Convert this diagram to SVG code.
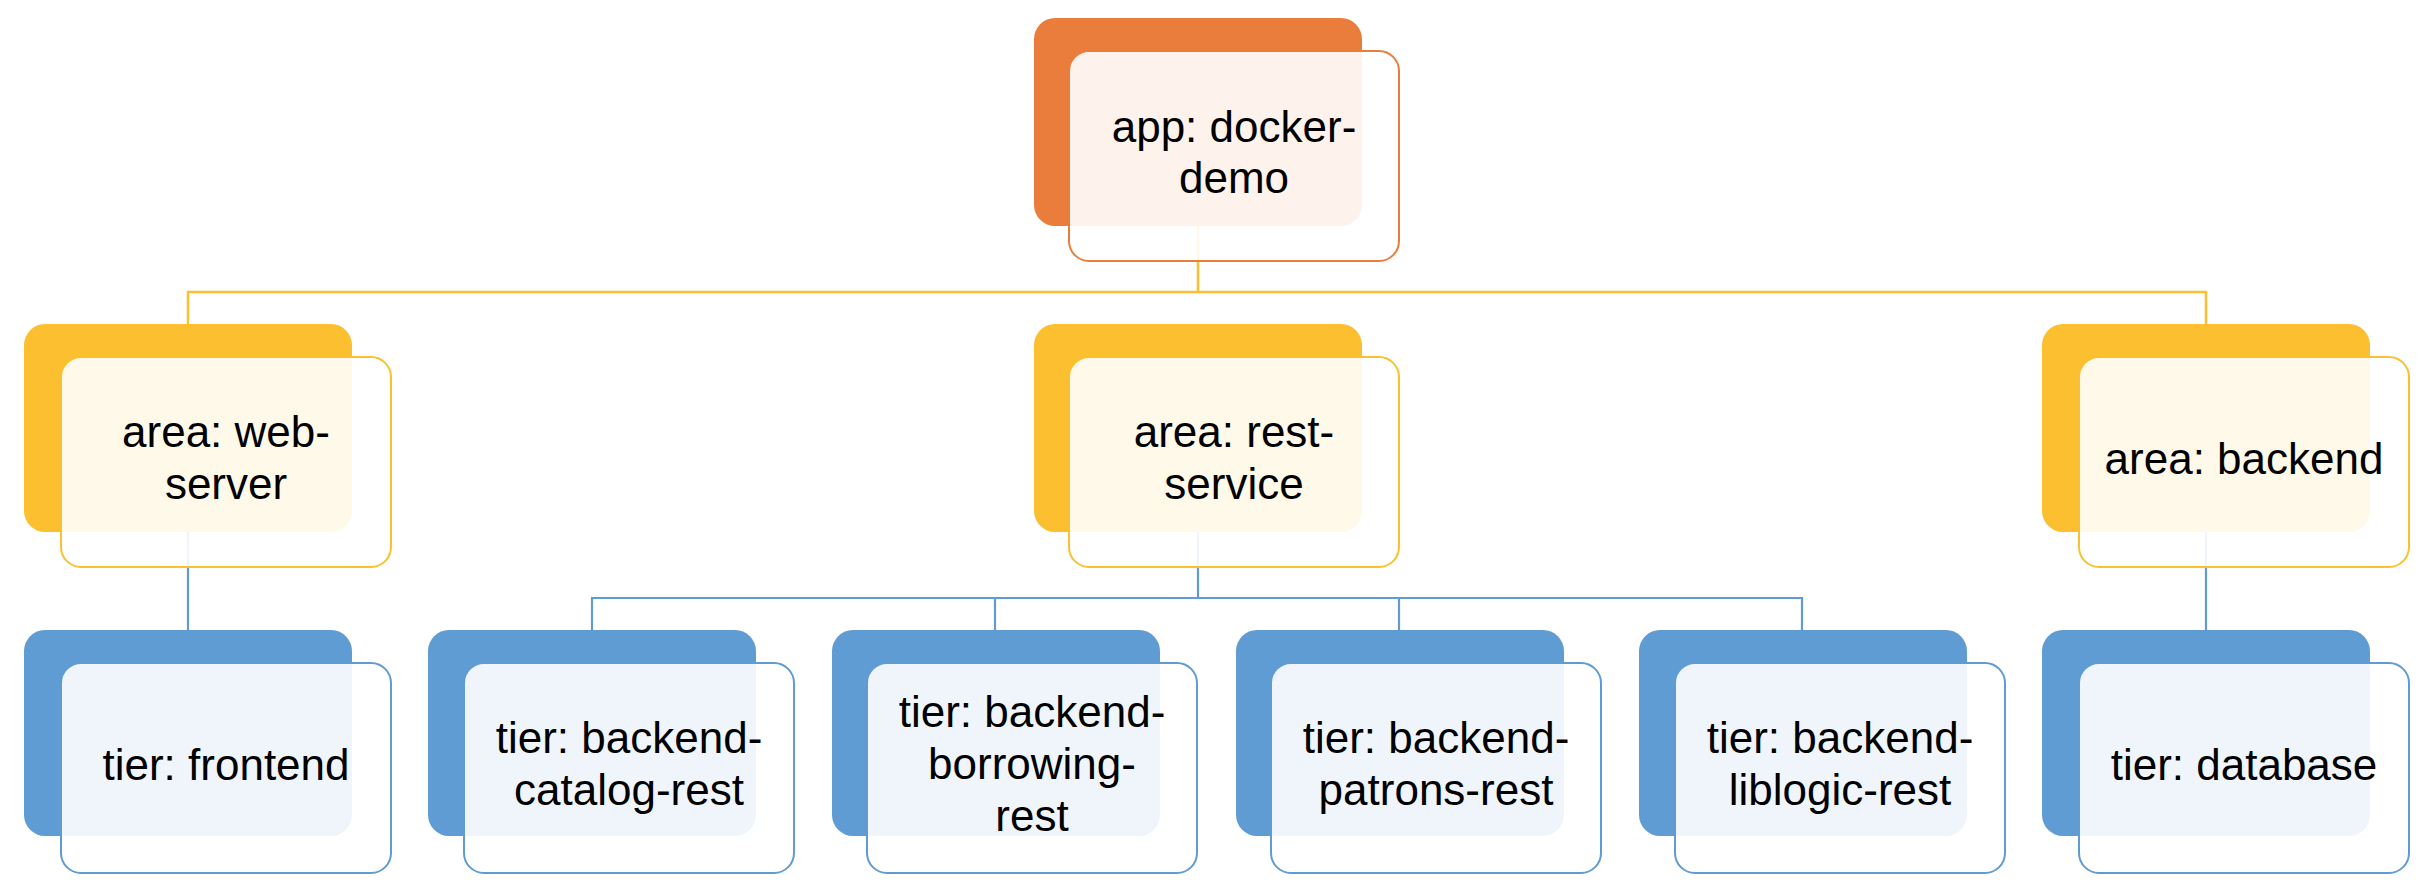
<svg xmlns="http://www.w3.org/2000/svg" width="2430" height="886" viewBox="0 0 2430 886">
<style>
.bg{stroke:none}
.fo{fill:#EB7D3C}
.fg{fill:#FCBF2F}
.fb{fill:#5F9CD3}
.ov{fill:#FFFFFF;fill-opacity:0.9;stroke-width:2}
.so{stroke:#EB7D3C}
.sg{stroke:#FCBF2F}
.sb{stroke:#5F9CD3}
.t{font-family:"Liberation Sans",Arial,sans-serif;font-size:44px;fill:#000;text-anchor:middle}
.cg{fill:none;stroke:#FCBF2F;stroke-width:2.5}
.cb{fill:none;stroke:#5F9CD3;stroke-width:2.2}
</style>
<rect width="2430" height="886" fill="#FFFFFF"/>
<g id="connectors">
<path class="cg" d="M188 324 V292 H2206 V324 M1198 226 V292"/>
<path class="cb" d="M188 532 V630 M1198 532 V598 M592 630 V598 H1802 V630 M995 598 V630 M1399 598 V630 M2206 532 V630"/>
</g>
<g id="app">
<rect class="fo" x="1034" y="18" width="328" height="208" rx="21"/>
<rect class="ov so" x="1069" y="51" width="330" height="210" rx="20"/>
<text class="t" x="1234" y="142">app: docker-</text>
<text class="t" x="1234" y="193">demo</text>
</g>
<g id="area-web-server">
<rect class="fg" x="24" y="324" width="328" height="208" rx="21"/>
<rect class="ov sg" x="61" y="357" width="330" height="210" rx="20"/>
<text class="t" x="226" y="447">area: web-</text>
<text class="t" x="226" y="499">server</text>
</g>
<g id="area-rest-service">
<rect class="fg" x="1034" y="324" width="328" height="208" rx="21"/>
<rect class="ov sg" x="1069" y="357" width="330" height="210" rx="20"/>
<text class="t" x="1234" y="447">area: rest-</text>
<text class="t" x="1234" y="499">service</text>
</g>
<g id="area-backend">
<rect class="fg" x="2042" y="324" width="328" height="208" rx="21"/>
<rect class="ov sg" x="2079" y="357" width="330" height="210" rx="20"/>
<text class="t" x="2244" y="474">area: backend</text>
</g>
<g id="tier-frontend">
<rect class="fb" x="24" y="630" width="328" height="206" rx="21"/>
<rect class="ov sb" x="61" y="663" width="330" height="210" rx="20"/>
<text class="t" x="226" y="780">tier: frontend</text>
</g>
<g id="tier-backend-catalog-rest">
<rect class="fb" x="428" y="630" width="328" height="206" rx="21"/>
<rect class="ov sb" x="464" y="663" width="330" height="210" rx="20"/>
<text class="t" x="629" y="753">tier: backend-</text>
<text class="t" x="629" y="805">catalog-rest</text>
</g>
<g id="tier-backend-borrowing-rest">
<rect class="fb" x="832" y="630" width="328" height="206" rx="21"/>
<rect class="ov sb" x="867" y="663" width="330" height="210" rx="20"/>
<text class="t" x="1032" y="727">tier: backend-</text>
<text class="t" x="1032" y="779">borrowing-</text>
<text class="t" x="1032" y="831">rest</text>
</g>
<g id="tier-backend-patrons-rest">
<rect class="fb" x="1236" y="630" width="328" height="206" rx="21"/>
<rect class="ov sb" x="1271" y="663" width="330" height="210" rx="20"/>
<text class="t" x="1436" y="753">tier: backend-</text>
<text class="t" x="1436" y="805">patrons-rest</text>
</g>
<g id="tier-backend-liblogic-rest">
<rect class="fb" x="1639" y="630" width="328" height="206" rx="21"/>
<rect class="ov sb" x="1675" y="663" width="330" height="210" rx="20"/>
<text class="t" x="1840" y="753">tier: backend-</text>
<text class="t" x="1840" y="805">liblogic-rest</text>
</g>
<g id="tier-database">
<rect class="fb" x="2042" y="630" width="328" height="206" rx="21"/>
<rect class="ov sb" x="2079" y="663" width="330" height="210" rx="20"/>
<text class="t" x="2244" y="780">tier: database</text>
</g>
</svg>
